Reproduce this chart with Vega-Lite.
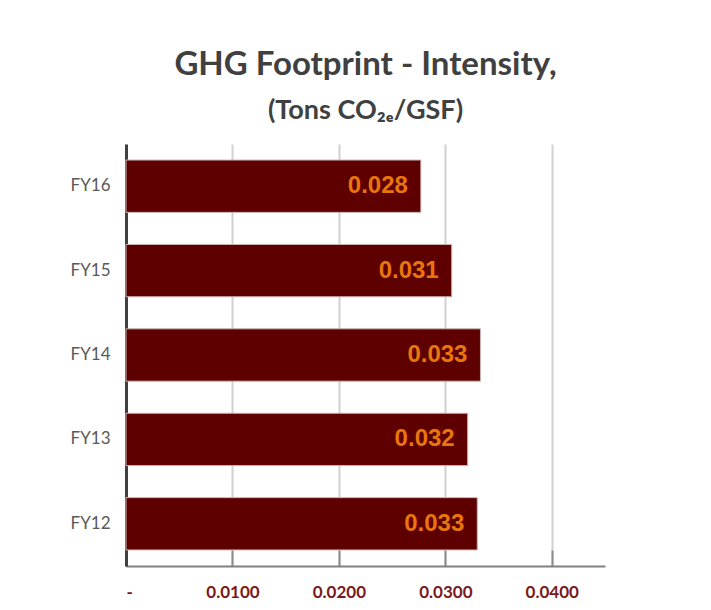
{
  "$schema": "https://vega.github.io/schema/vega-lite/v6.json",
  "autosize": {"type": "none"},
  "width": 479,
  "height": 422,
  "padding": {"left": 126, "top": 144, "right": 106, "bottom": 44},
  "background": "white",
  "title": {
    "text": "GHG Footprint - Intensity,",
    "subtitle": "(Tons CO₂ₑ/GSF)",
    "anchor": "middle",
    "font": "Lato",
    "fontSize": 33,
    "fontWeight": "bold",
    "color": "#404040",
    "subtitleFont": "Lato",
    "subtitleFontSize": 27,
    "subtitleFontWeight": "bold",
    "subtitleColor": "#404040",
    "subtitlePadding": 16,
    "offset": 20
  },
  "data": {
    "values": [
      {"year": "FY16", "value": 0.0277},
      {"year": "FY15", "value": 0.0306},
      {"year": "FY14", "value": 0.0333},
      {"year": "FY13", "value": 0.0321},
      {"year": "FY12", "value": 0.0330}
    ]
  },
  "encoding": {
    "y": {
      "field": "year",
      "type": "nominal",
      "sort": null,
      "title": null,
      "scale": {"paddingInner": 0.38, "paddingOuter": 0.19},
      "axis": {
        "domainColor": "#404040",
        "domainWidth": 3,
        "ticks": false,
        "grid": false,
        "labelFont": "Lato",
        "labelFontSize": 17,
        "labelColor": "#595959",
        "labelPadding": 16
      }
    },
    "x": {
      "field": "value",
      "type": "quantitative",
      "title": null,
      "scale": {"domain": [0, 0.045], "nice": false},
      "axis": {
        "values": [0, 0.01, 0.02, 0.03, 0.04],
        "labelExpr": "datum.value == 0 ? '-' : format(datum.value, '.4f')",
        "domainColor": "#808080",
        "domainWidth": 2,
        "gridColor": "#d0d0d0",
        "gridWidth": 2,
        "tickColor": "#8c8c8c",
        "tickWidth": 2,
        "tickSize": -16,
        "labelFont": "Lato",
        "labelFontSize": 17,
        "labelFontWeight": "bold",
        "labelColor": "#7a1a1a",
        "labelPadding": 34
      }
    }
  },
  "layer": [
    {
      "mark": {"type": "bar", "color": "#5e0000", "stroke": "#c8b4b4", "strokeWidth": 1}
    },
    {
      "mark": {
        "type": "text",
        "align": "right",
        "baseline": "middle",
        "dx": -13,
        "font": "Liberation Sans",
        "fontSize": 24,
        "fontWeight": "bold",
        "color": "#e8760c"
      },
      "encoding": {
        "text": {"field": "value", "type": "quantitative", "format": ".3f"}
      }
    }
  ],
  "config": {
    "view": {"stroke": null}
  }
}
